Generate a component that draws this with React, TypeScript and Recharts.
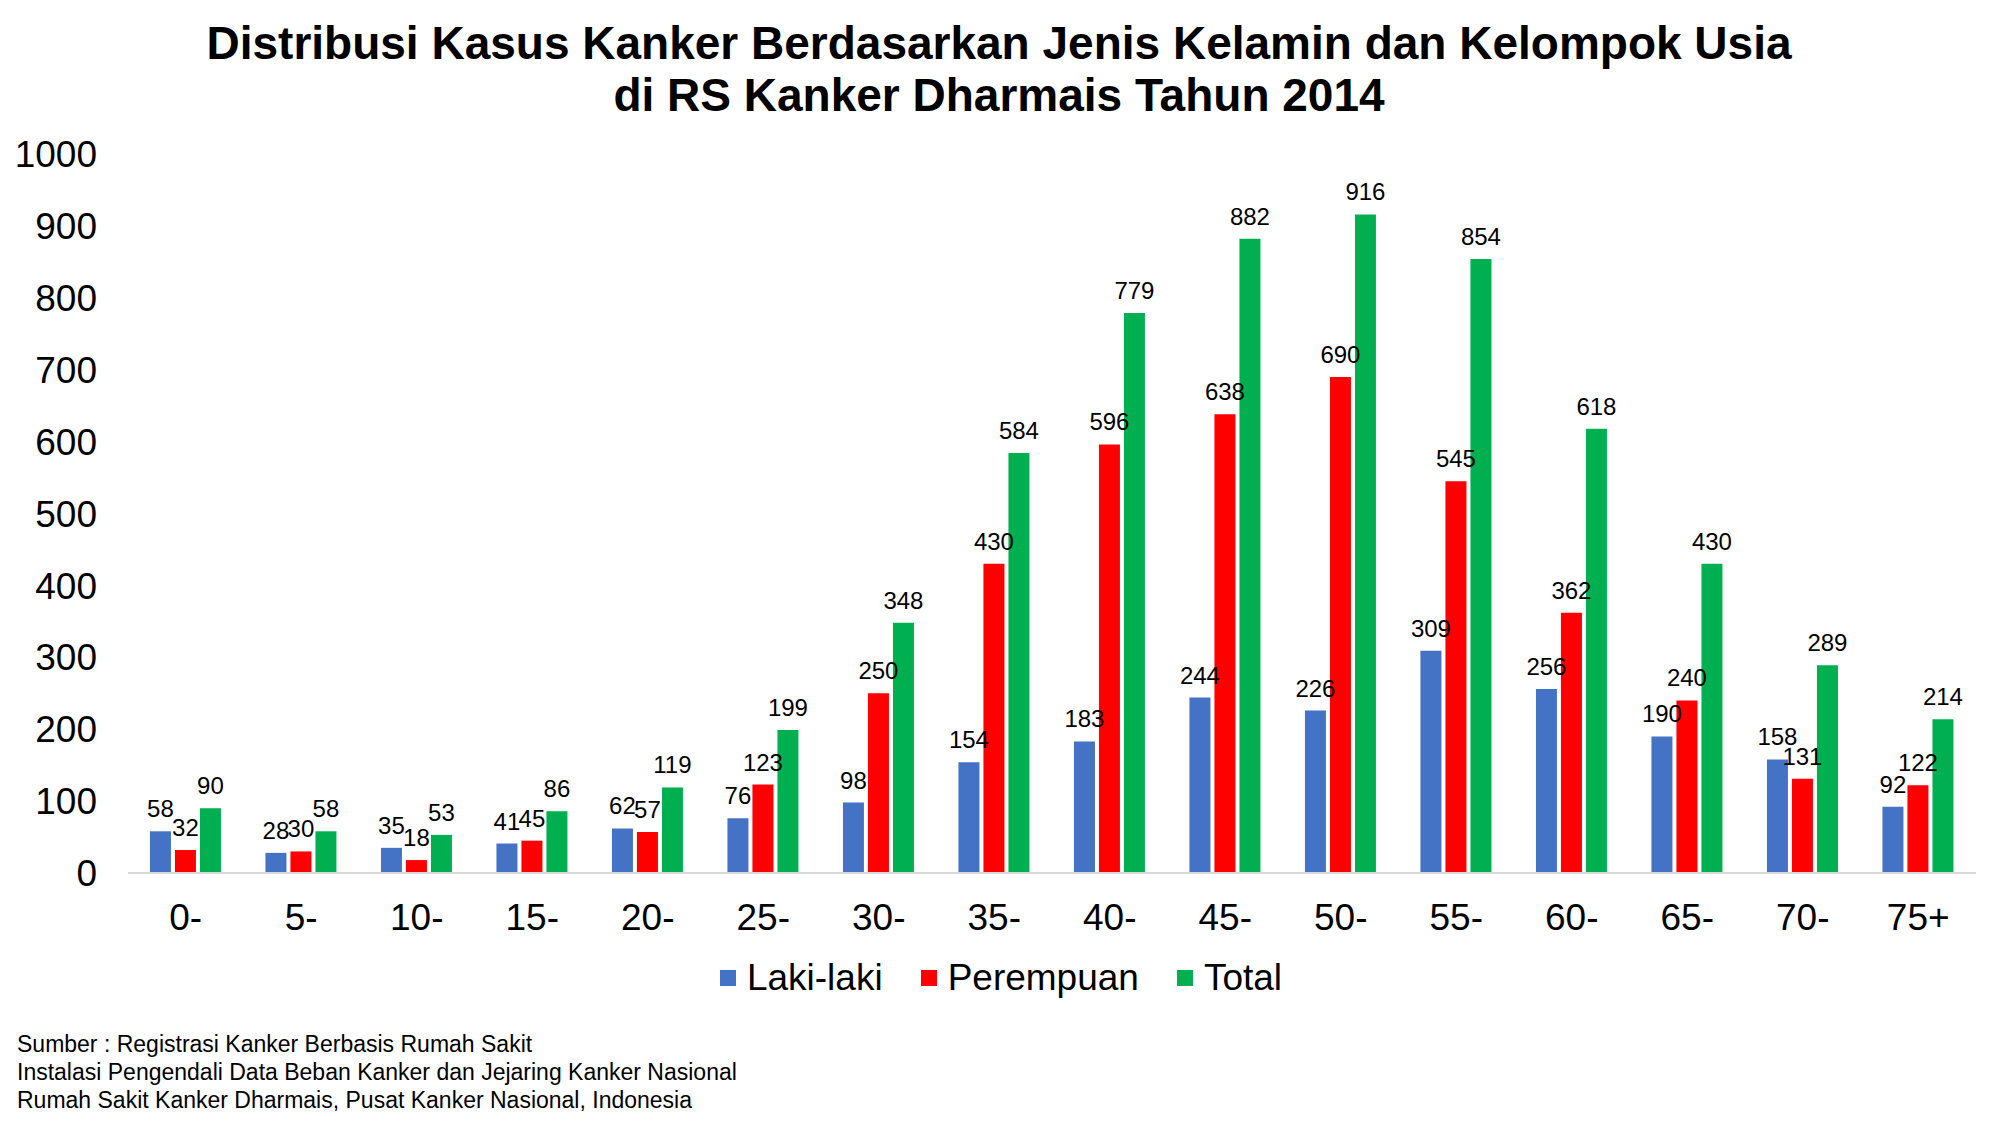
import { BarChart, Bar, XAxis, YAxis, LabelList, Legend } from 'recharts'

const AGE_GROUPS = ['0-', '5-', '10-', '15-', '20-', '25-', '30-', '35-', '40-', '45-', '50-', '55-', '60-', '65-', '70-', '75+']
const LAKI_LAKI = [58, 28, 35, 41, 62, 76, 98, 154, 183, 244, 226, 309, 256, 190, 158, 92]
const PEREMPUAN = [32, 30, 18, 45, 57, 123, 250, 430, 596, 638, 690, 545, 362, 240, 131, 122]
const TOTAL = [90, 58, 53, 86, 119, 199, 348, 584, 779, 882, 916, 854, 618, 430, 289, 214]
const Y_TICKS = [0, 100, 200, 300, 400, 500, 600, 700, 800, 900, 1000]

const SOURCE_LINES = [
  'Sumber : Registrasi Kanker Berbasis Rumah Sakit',
  'Instalasi Pengendali Data Beban Kanker dan Jejaring Kanker Nasional',
  'Rumah Sakit Kanker Dharmais, Pusat Kanker Nasional, Indonesia',
]

const FONT = '"Liberation Sans", Arial, sans-serif'

const data = AGE_GROUPS.map((age, i) => ({
  age,
  laki: LAKI_LAKI[i],
  perempuan: PEREMPUAN[i],
  total: TOTAL[i],
}))

function LegendContent({ payload }: any) {
  return (
    <div style={{ display: 'flex', justifyContent: 'center', gap: 38, fontSize: 37, fontFamily: FONT, color: '#000' }}>
      {(payload || []).map((p: any) => (
        <div key={p.value} style={{ display: 'flex', alignItems: 'center' }}>
          <span style={{ width: 16, height: 16, background: p.color, marginRight: 11, display: 'inline-block' }} />
          <span>{p.value}</span>
        </div>
      ))}
    </div>
  )
}

export default function App() {
  const tick = { fill: '#000', fontSize: 37, fontFamily: FONT }
  const label = { fill: '#000', fontSize: 24, fontFamily: FONT }

  return (
    <div style={{ position: 'absolute', left: 0, top: 0, width: 1998, height: 1126, background: '#fff', fontFamily: FONT }}>
      <div style={{ position: 'absolute', top: 17, left: 0, width: 1998, textAlign: 'center', fontSize: 46, fontWeight: 'bold', lineHeight: '52px', color: '#000' }}>
        <div>Distribusi Kasus Kanker Berdasarkan Jenis Kelamin dan Kelompok Usia</div>
        <div>di RS Kanker Dharmais Tahun 2014</div>
      </div>

      <BarChart
        width={1998}
        height={1126}
        data={data}
        margin={{ top: 154, right: 22, left: 0, bottom: 193 }}
        barCategoryGap="19%"
        barGap={4}
      >
        <XAxis
          dataKey="age"
          height={60}
          interval={0}
          tick={tick}
          tickLine={false}
          tickSize={6}
          tickMargin={25}
          axisLine={{ stroke: '#d9d9d9', strokeWidth: 2 }}
        />
        <YAxis
          width={128}
          domain={[0, 1000]}
          ticks={Y_TICKS}
          interval={0}
          tick={tick}
          tickLine={false}
          axisLine={false}
          tickSize={6}
          tickMargin={25}
        />
        <Legend
          layout="horizontal"
          verticalAlign="middle"
          align="center"
          content={<LegendContent />}
          wrapperStyle={{ top: 957, left: 8, width: 1986 }}
        />
        <Bar dataKey="laki" name="Laki-laki" fill="#4472C4" isAnimationActive={false}>
          <LabelList dataKey="laki" position="top" offset={14} style={label} />
        </Bar>
        <Bar dataKey="perempuan" name="Perempuan" fill="#FF0000" isAnimationActive={false}>
          <LabelList dataKey="perempuan" position="top" offset={14} style={label} />
        </Bar>
        <Bar dataKey="total" name="Total" fill="#00B050" isAnimationActive={false}>
          <LabelList dataKey="total" position="top" offset={14} style={label} />
        </Bar>
      </BarChart>

      <div style={{ position: 'absolute', left: 17, top: 1030, fontSize: 23, lineHeight: '28px', color: '#000' }}>
        {SOURCE_LINES.map((line) => (
          <div key={line}>{line}</div>
        ))}
      </div>
    </div>
  )
}
